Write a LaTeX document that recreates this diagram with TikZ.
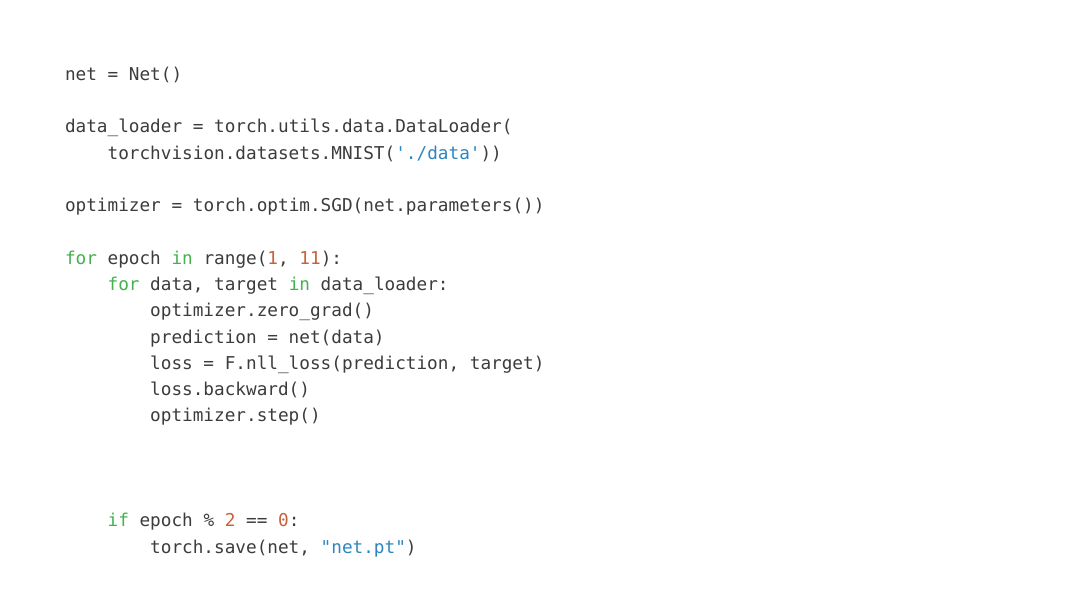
\documentclass[tikz,border=0pt]{standalone}
\usepackage{fontspec}
\setmonofont{DejaVu Sans Mono}
\definecolor{codetext}{HTML}{3C3C3C}
\definecolor{kwgreen}{HTML}{45B04E}
\definecolor{numorange}{HTML}{C9603A}
\definecolor{strblue}{HTML}{2E86BF}
\newcommand\kwd[1]{\textcolor{kwgreen}{#1}}
\newcommand\nmb[1]{\textcolor{numorange}{#1}}
\newcommand\strg[1]{\textcolor{strblue}{#1}}
\begin{document}
\begin{tikzpicture}[x=1bp,y=-1bp,
  codeline/.style={anchor=base west, inner sep=0pt, outer sep=0pt,
    font=\ttfamily\fontsize{17.7bp}{20bp}\selectfont, text=codetext}]
\fill[white] (0,0) rectangle (1080,608);
\useasboundingbox (0,0) rectangle (1080,608);
\def\la{65}
\def\lb{107.6}
\def\lc{150.2}
\node[codeline] (l1) at (\la,80.5) {net = Net()};
\node[codeline] (l2) at (\la,133) {data\_loader = torch.utils.data.DataLoader(};
\node[codeline] (l3) at (\lb,159.25) {torchvision.datasets.MNIST(\strg{'./data'}))};
\node[codeline] (l4) at (\la,211.75) {optimizer = torch.optim.SGD(net.parameters())};
\node[codeline] (l5) at (\la,264.25) {\kwd{for} epoch \kwd{in} range(\nmb{1}, \nmb{11}):};
\node[codeline] (l6) at (\lb,290.5) {\kwd{for} data, target \kwd{in} data\_loader:};
\node[codeline] (l7) at (\lc,316.75) {optimizer.zero\_grad()};
\node[codeline] (l8) at (\lc,343) {prediction = net(data)};
\node[codeline] (l9) at (\lc,369.25) {loss = F.nll\_loss(prediction, target)};
\node[codeline] (l10) at (\lc,395.5) {loss.backward()};
\node[codeline] (l11) at (\lc,421.75) {optimizer.step()};
\node[codeline] (l12) at (\lb,526.75) {\kwd{if} epoch \% \nmb{2} == \nmb{0}:};
\node[codeline] (l13) at (\lc,553) {torch.save(net, \strg{"net.pt"})};
\end{tikzpicture}
\end{document}
